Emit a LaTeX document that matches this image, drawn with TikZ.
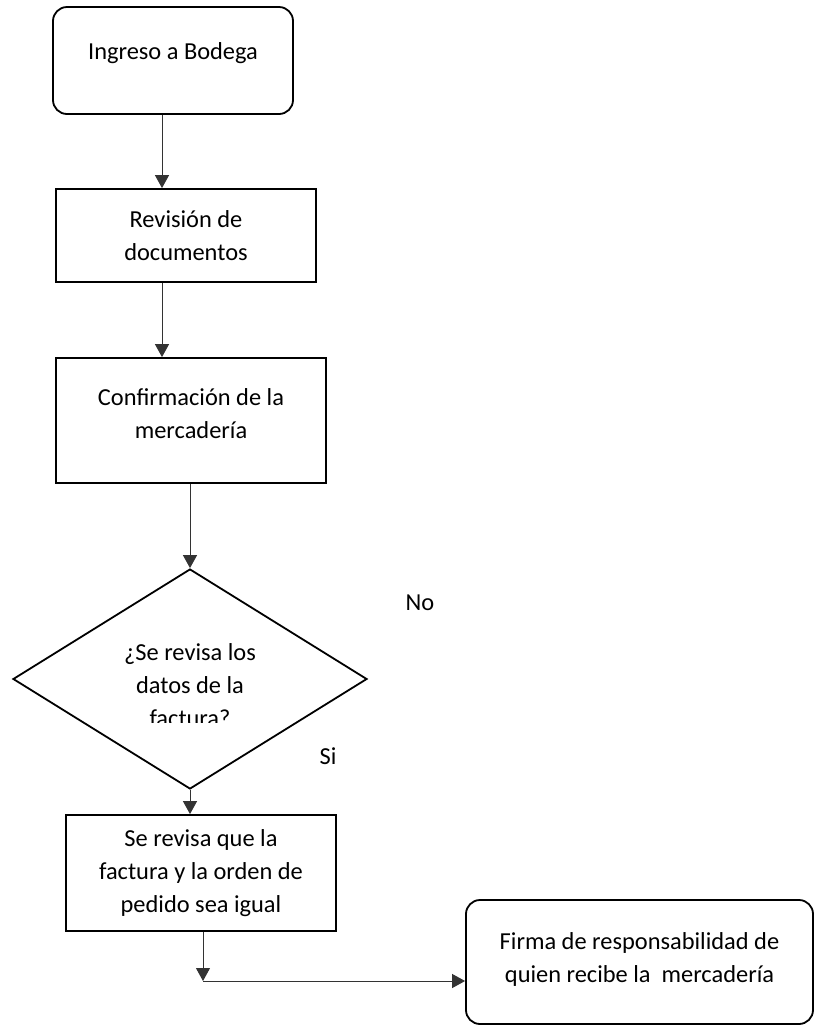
\documentclass[tikz,border=0pt]{standalone}
\usepackage{fontspec}
\setmainfont{Carlito}
\usetikzlibrary{shapes.geometric,arrows.meta}

\tikzset{
  txt/.style={inner sep=0pt, align=center, font=\fontsize{12.2pt}{16.5pt}\selectfont},
  proc/.style={txt, draw, line width=0.9pt},
  term/.style={proc, rounded corners=7pt},
  choice/.style={draw, line width=0.9pt, diamond, aspect=1.6, inner sep=0pt},
  flow/.style={line width=0.5pt, draw=black!80, -{Triangle[width=7pt,length=6.5pt]}},
}

\begin{document}
\begin{tikzpicture}[x=0.5pt, y=-0.5pt]
  \useasboundingbox (0,0) rectangle (814,1025);

  \node[term, minimum width=120pt, minimum height=53.5pt, text depth=9.5pt] (ingreso) at (173,60.5) {Ingreso a Bodega};
  \node[proc, minimum width=130pt, minimum height=46.5pt] (revision) at (186,235.5) {Revisión de\\documentos};
  \node[proc, minimum width=135pt, minimum height=62.5pt, text depth=7pt] (confirma) at (191,420.5) {Confirmación de la\\mercadería};
  \node[choice, minimum width=177pt, minimum height=110pt] (decision) at (190,679) {};
  \begin{scope}
    \clip (100,630) rectangle (280,722);
    \node[txt] (pregunta) at (190,685.5) {¿Se revisa los\\datos de la\\factura?};
  \end{scope}
  \node[txt] (no) at (420,603) {No};
  \node[txt] (si) at (328,756) {Si};
  \node[proc, minimum width=135pt, minimum height=58pt] (revisa) at (201,873) {Se revisa que la\\factura y la orden de\\pedido sea igual};
  \node[term, minimum width=173.5pt, minimum height=62pt, text depth=4pt] (firma) at (639.5,962) {Firma de responsabilidad de\\quien recibe la \ mercadería};
  \coordinate (giro) at (203,981);

  \draw[flow] ([xshift=-5.5pt]ingreso.south) -- ([xshift=-5.5pt]ingreso.south |- revision.north);
  \draw[flow] ([xshift=-12pt]revision.south) -- ([xshift=-12pt]revision.south |- confirma.north);
  \draw[flow] (confirma.south -| decision.north) -- (decision.north);
  \draw[flow] (decision.south) -- (decision.south |- revisa.north);
  \draw[flow] (revisa.south -| giro) -- (giro);
  \draw[flow] (giro) -- (giro -| firma.west);
\end{tikzpicture}
\end{document}
